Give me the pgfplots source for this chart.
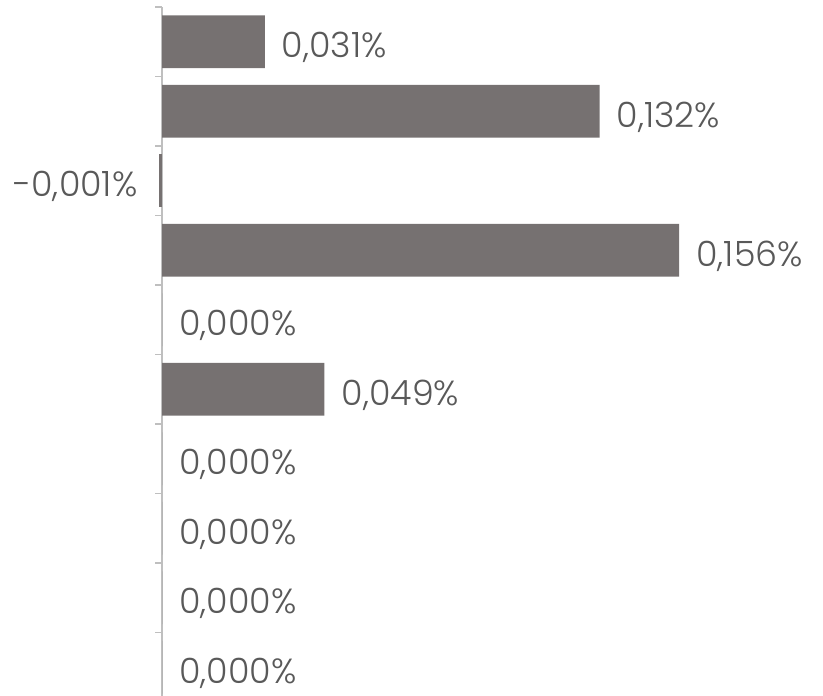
\documentclass[border=0pt]{standalone}
\usepackage{pgfplots}
\pgfplotsset{compat=1.18}
\usepackage{pgfplotstable}
\usepackage{fontspec}
\setmainfont{Poppins Light}
\definecolor{barc}{HTML}{767171}
\definecolor{labc}{HTML}{595959}
\definecolor{axc}{HTML}{BFBFBF}
\pgfplotstableread{
idx val label
0 0.031 0,031\%
1 0.132 0,132\%
3 0.156 0,156\%
4 0.000 0,000\%
5 0.049 0,049\%
6 0.000 0,000\%
7 0.000 0,000\%
8 0.000 0,000\%
9 0.000 0,000\%
}\postable
\pgfplotstableread{
idx val label
2 -0.001 -0,001\%
}\negtable
\begin{document}
\begin{tikzpicture}
\useasboundingbox (0,0) rectangle (823bp,-696bp);
\begin{axis}[
  at={(0,-7bp)}, anchor=north west,
  scale only axis,
  width=823bp, height=689bp,
  xmin=-0.04887, xmax=0.1994,
  ymin=-0.5, ymax=9.414,
  y dir=reverse,
  axis x line=none,
  axis y line=middle,
  axis line style={-, draw=axc, line width=1.2bp},
  ytick={-0.5,0.5,...,8.5},
  yticklabels={},
  xtick=\empty,
  tick align=outside,
  major tick length=7bp,
  tick style={draw=axc, line width=1.2bp},
  clip=false,
]
\addplot[xbar, bar shift=0pt, fill=barc, draw=none, bar width=0.76,
  nodes near coords, point meta=explicit symbolic,
  nodes near coords style={font=\fontsize{35}{39}\selectfont, text=labc, anchor=base west, inner xsep=17bp, inner ysep=0pt, yshift=-16bp},
] table[x=val, y=idx, meta=label] {\postable};
\addplot[xbar, bar shift=0pt, fill=barc, draw=none, bar width=0.76,
  nodes near coords, point meta=explicit symbolic,
  nodes near coords style={font=\fontsize{35}{39}\selectfont, text=labc, anchor=base east, inner xsep=21bp, inner ysep=0pt, yshift=-16bp},
] table[x=val, y=idx, meta=label] {\negtable};
\end{axis}
\end{tikzpicture}
\end{document}
